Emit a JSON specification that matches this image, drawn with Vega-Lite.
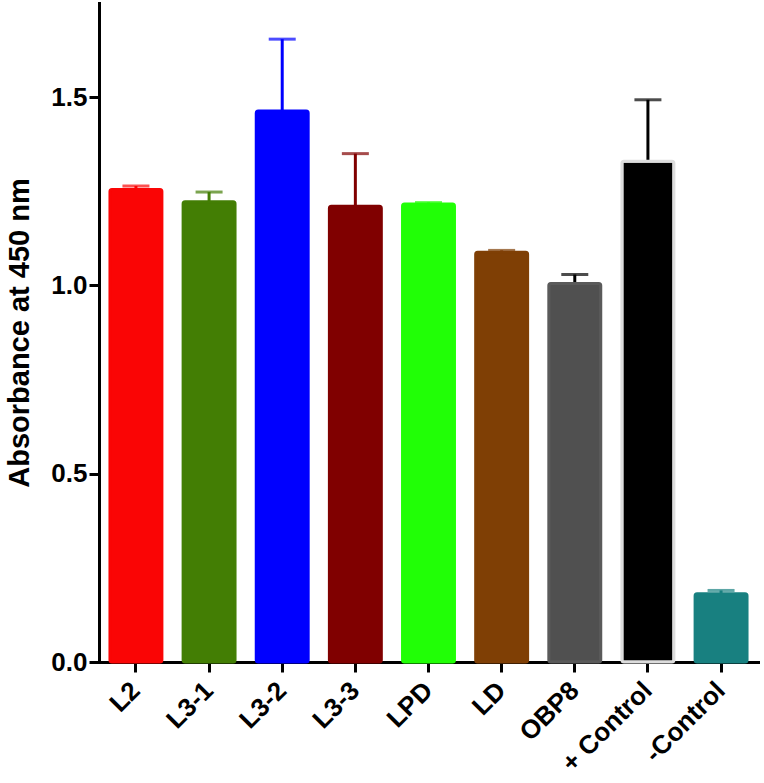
{
  "$schema": "https://vega.github.io/schema/vega-lite/v6.json",
  "width": 659,
  "height": 659,
  "autosize": {"type": "none"},
  "padding": {"left": 99, "top": 3, "right": 6, "bottom": 121},
  "background": "white",
  "config": {
    "view": {"stroke": null},
    "font": "Liberation Sans",
    "axis": {
      "domainColor": "black",
      "domainWidth": 3,
      "domainCap": "square",
      "tickColor": "black",
      "tickWidth": 3,
      "tickSize": 10,
      "labelColor": "black",
      "labelFont": "Liberation Sans",
      "labelFontWeight": "bold",
      "labelFontSize": 26,
      "titleFont": "Liberation Sans",
      "titleFontWeight": "bold",
      "titleFontSize": 29,
      "titleColor": "black",
      "grid": false
    }
  },
  "data": {
    "values": [
      {"name": "L2", "mean": 1.255, "upper": 1.264},
      {"name": "L3-1", "mean": 1.222, "upper": 1.248},
      {"name": "L3-2", "mean": 1.463, "upper": 1.654},
      {"name": "L3-3", "mean": 1.21, "upper": 1.35},
      {"name": "LPD", "mean": 1.216, "upper": 1.22},
      {"name": "LD", "mean": 1.088, "upper": 1.093},
      {"name": "OBP8", "mean": 1.005, "upper": 1.029},
      {"name": "+ Control", "mean": 1.33, "upper": 1.493},
      {"name": "-Control", "mean": 0.181, "upper": 0.19}
    ]
  },
  "encoding": {
    "x": {
      "field": "name",
      "type": "nominal",
      "sort": null,
      "scale": {"paddingInner": 0.29, "paddingOuter": 0.15},
      "axis": {
        "title": null,
        "labelAngle": -45,
        "labelAlign": "right",
        "labelBaseline": "middle",
        "labelPadding": 14
      }
    }
  },
  "layer": [
    {
      "mark": {"type": "rule", "strokeWidth": 3},
      "encoding": {
        "y": {"field": "mean", "type": "quantitative"},
        "y2": {"field": "upper"},
        "color": {
          "field": "name",
          "type": "nominal",
          "legend": null,
          "scale": {
            "domain": ["L2", "L3-1", "L3-2", "L3-3", "LPD", "LD", "OBP8", "+ Control", "-Control"],
            "range": ["#fa0505", "#437e04", "#0000ff", "#800000", "#21ff06", "#7f3f05", "#000000", "#000000", "#188080"]
          }
        }
      }
    },
    {
      "mark": {"type": "tick", "thickness": 3, "size": 27},
      "encoding": {
        "y": {"field": "upper", "type": "quantitative"},
        "color": {
          "field": "name",
          "type": "nominal",
          "legend": null,
          "scale": {
            "domain": ["L2", "L3-1", "L3-2", "L3-3", "LPD", "LD", "OBP8", "+ Control", "-Control"],
            "range": ["#fa0505", "#437e04", "#0000ff", "#800000", "#21ff06", "#7f3f05", "#000000", "#000000", "#188080"]
          }
        }
      }
    },
    {
      "mark": {"type": "bar", "cornerRadius": 2, "strokeWidth": 3},
      "encoding": {
        "y": {
          "field": "mean",
          "type": "quantitative",
          "scale": {"domain": [0, 1.75], "nice": false, "zero": true},
          "axis": {
            "title": "Absorbance at 450 nm",
            "values": [0, 0.5, 1, 1.5],
            "format": ".1f",
            "labelPadding": 2,
            "titlePadding": 16
          }
        },
        "fill": {
          "field": "name",
          "type": "nominal",
          "legend": null,
          "scale": {
            "domain": ["L2", "L3-1", "L3-2", "L3-3", "LPD", "LD", "OBP8", "+ Control", "-Control"],
            "range": ["#fa0505", "#437e04", "#0000ff", "#800000", "#21ff06", "#7f3f05", "#505050", "#000000", "#188080"]
          }
        },
        "stroke": {
          "field": "name",
          "type": "nominal",
          "legend": null,
          "scale": {
            "domain": ["L2", "L3-1", "L3-2", "L3-3", "LPD", "LD", "OBP8", "+ Control", "-Control"],
            "range": ["#fa0505", "#437e04", "#0000ff", "#800000", "#21ff06", "#7f3f05", "#5a5a5a", "#dddddd", "#188080"]
          }
        }
      }
    }
  ],
  "resolve": {"scale": {"color": "independent"}}
}
